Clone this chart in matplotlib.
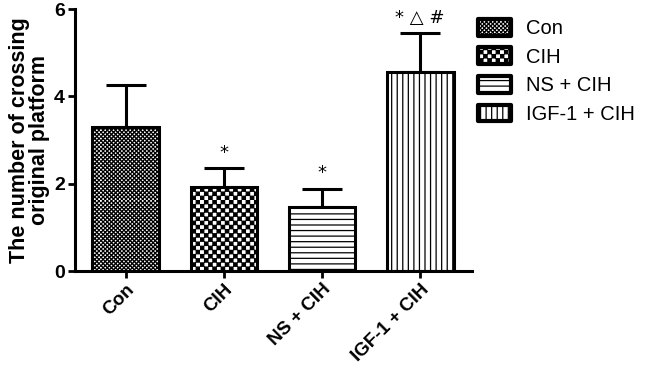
import numpy as np
import matplotlib
matplotlib.use("Agg")
import matplotlib.pyplot as plt
import matplotlib.hatch as mhatch
from matplotlib.path import Path

# ---- data ----
groups = ["Con", "CIH", "NS + CIH", "IGF-1 + CIH"]
means = [3.30, 1.93, 1.47, 4.56]
sem = [0.97, 0.43, 0.42, 0.88]
marks = ["", "*", "*", "* \u25B3 #"]
hatches = ["oooooooo", "oooo", "---", "|||"]


# checkerboard hatch (uses 'o' character, replaces small circles)
class Checker(mhatch.HatchPatternBase):
    def __init__(self, hatch, density):
        self.n = int(hatch.count("o")) * density
        if self.n % 2:
            self.n += 1
        self.num_vertices = (self.n * self.n // 2) * 5 if self.n else 0

    def set_vertices_and_codes(self, vertices, codes):
        n = self.n
        s = 1.0 / n
        shrink = 0.004
        k = 0
        for i in range(n):
            for j in range(n):
                if (i + j) % 2:
                    continue
                x0, y0 = i * s + shrink, j * s + shrink
                x1, y1 = (i + 1) * s - shrink, (j + 1) * s - shrink
                vertices[k:k + 5] = [(x0, y0), (x1, y0), (x1, y1), (x0, y1), (x0, y0)]
                codes[k:k + 5] = [Path.MOVETO, Path.LINETO, Path.LINETO, Path.LINETO, Path.CLOSEPOLY]
                k += 5


mhatch._hatch_types = [c for c in mhatch._hatch_types if c is not mhatch.SmallCircles] + [Checker]

plt.rcParams["font.family"] = ["Liberation Sans", "DejaVu Sans"]
plt.rcParams["hatch.linewidth"] = 0.9

fig = plt.figure(figsize=(6.45, 3.76), dpi=100)
ax = fig.add_axes([0.116, 0.279, 0.616, 0.697])

x = np.arange(len(groups))
bars = ax.bar(x, means, width=0.68, color="white", edgecolor="black",
              linewidth=2.2, zorder=2)
for b, h, g in zip(bars, hatches, groups):
    b.set_hatch(h)
    b.set_label(g)

ax.errorbar(x, means, yerr=[np.zeros(len(sem)), sem], fmt="none",
            ecolor="black", elinewidth=2.2, capsize=14.5, capthick=2.2, zorder=1)

for xi, m, e, t in zip(x, means, sem, marks):
    if t:
        ax.text(xi, m + e + 0.14, t, ha="center", va="bottom", fontsize=13,
                family=["DejaVu Sans"])

ax.set_xlim(-0.52, 3.53)
ax.set_ylim(0, 6)
ax.set_yticks([0, 2, 4, 6])
ax.set_xticks(x)
ax.set_xticklabels(groups, rotation=45, ha="right", rotation_mode="anchor",
                   fontsize=13.5, fontweight="bold")
for lab in ax.get_yticklabels():
    lab.set_fontsize(14)
    lab.set_fontweight("bold")

for s in ["top", "right"]:
    ax.spines[s].set_visible(False)
for s in ["left", "bottom"]:
    ax.spines[s].set_linewidth(2.2)
ax.tick_params(axis="both", width=2, length=5, direction="out", pad=2)

ax.set_ylabel("The number of crossing\noriginal platform", fontsize=15.5,
              fontweight="bold", labelpad=3, linespacing=0.95)

leg = fig.legend(handles=list(bars), labels=groups, loc="upper left",
                 bbox_to_anchor=(0.741, 0.950), frameon=False,
                 fontsize=14.5, handlelength=1.65, handleheight=0.9,
                 handletextpad=0.75, labelspacing=0.46,
                 borderaxespad=0.0, borderpad=0.0)
for p in leg.get_patches():
    p.set_linewidth(3.0)
    p.set_joinstyle("round")

fig.savefig("out.png", dpi=100)
